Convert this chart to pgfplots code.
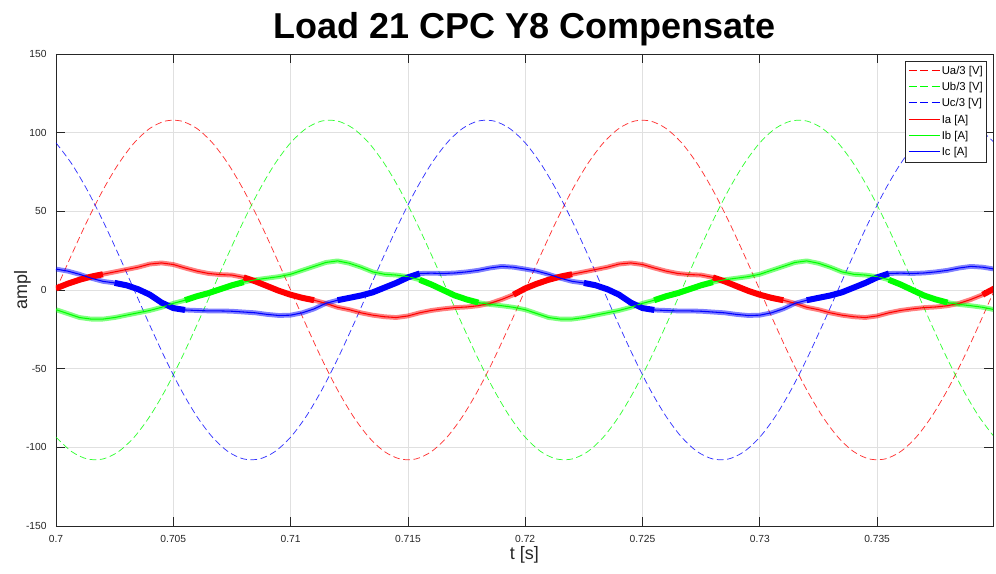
\documentclass[border=0pt]{standalone}
\usepackage{pgfplots}
\pgfplotsset{compat=1.18}
\usepackage{pgfplotstable}
\usepackage{fontspec}
\setmainfont{Liberation Sans}

\pgfplotstableread{
t ua ub uc
0.700000 0 -93.53 93.53
0.700667 22.45 -102.71 80.26
0.701333 43.93 -107.41 63.48
0.702000 63.48 -107.41 43.93
0.702667 80.26 -102.71 22.45
0.703333 93.53 -93.53 0
0.704000 102.71 -80.26 -22.45
0.704667 107.41 -63.48 -43.93
0.705333 107.41 -43.93 -63.48
0.706000 102.71 -22.45 -80.26
0.706667 93.53 0 -93.53
0.707333 80.26 22.45 -102.71
0.708000 63.48 43.93 -107.41
0.708667 43.93 63.48 -107.41
0.709333 22.45 80.26 -102.71
0.710000 0 93.53 -93.53
0.710667 -22.45 102.71 -80.26
0.711333 -43.93 107.41 -63.48
0.712000 -63.48 107.41 -43.93
0.712667 -80.26 102.71 -22.45
0.713333 -93.53 93.53 0
0.714000 -102.71 80.26 22.45
0.714667 -107.41 63.48 43.93
0.715333 -107.41 43.93 63.48
0.716000 -102.71 22.45 80.26
0.716667 -93.53 0 93.53
0.717333 -80.26 -22.45 102.71
0.718000 -63.48 -43.93 107.41
0.718667 -43.93 -63.48 107.41
0.719333 -22.45 -80.26 102.71
0.720000 0 -93.53 93.53
0.720667 22.45 -102.71 80.26
0.721333 43.93 -107.41 63.48
0.722000 63.48 -107.41 43.93
0.722667 80.26 -102.71 22.45
0.723333 93.53 -93.53 0
0.724000 102.71 -80.26 -22.45
0.724667 107.41 -63.48 -43.93
0.725333 107.41 -43.93 -63.48
0.726000 102.71 -22.45 -80.26
0.726667 93.53 0 -93.53
0.727333 80.26 22.45 -102.71
0.728000 63.48 43.93 -107.41
0.728667 43.93 63.48 -107.41
0.729333 22.45 80.26 -102.71
0.730000 0 93.53 -93.53
0.730667 -22.45 102.71 -80.26
0.731333 -43.93 107.41 -63.48
0.732000 -63.48 107.41 -43.93
0.732667 -80.26 102.71 -22.45
0.733333 -93.53 93.53 0
0.734000 -102.71 80.26 22.45
0.734667 -107.41 63.48 43.93
0.735333 -107.41 43.93 63.48
0.736000 -102.71 22.45 80.26
0.736667 -93.53 0 93.53
0.737333 -80.26 -22.45 102.71
0.738000 -63.48 -43.93 107.41
0.738667 -43.93 -63.48 107.41
0.739333 -22.45 -80.26 102.71
0.740000 0 -93.53 93.53
}\volt

\pgfplotstableread{
t ia ib ic
0.7000 1.0 -12.5 13.3
0.7005 4.0 -15.0 12.0
0.7010 6.5 -17.5 10.0
0.7015 8.5 -18.5 7.5
0.7020 10.0 -18.5 5.5
0.7025 11.5 -17.5 4.5
0.7030 13.0 -16.0 3.0
0.7035 14.5 -14.5 0.5
0.7040 16.5 -13.0 -3.0
0.7045 17.2 -11.0 -8.0
0.7050 16.2 -8.5 -11.5
0.7055 14.0 -6.5 -12.7
0.7060 12.0 -4.0 -13.0
0.7065 10.5 -2.0 -13.3
0.7070 9.8 0.5 -13.3
0.7075 9.5 3.0 -13.5
0.7080 8.0 5.0 -14.0
0.7085 5.5 6.5 -14.5
0.7090 2.5 7.5 -15.5
0.7095 -0.5 8.5 -16.2
0.7100 -3.0 10.0 -16.0
0.7105 -5.0 12.5 -14.5
0.7110 -6.5 15.0 -12.0
0.7115 -8.5 17.5 -8.5
0.7120 -11.0 18.5 -6.5
0.7125 -12.5 17.0 -5.0
0.7130 -14.5 14.5 -3.5
0.7135 -16.0 11.5 -1.5
0.7140 -17.0 10.0 1.5
0.7145 -17.5 9.5 4.5
0.7150 -16.5 8.5 8.0
0.7155 -14.5 6.5 10.5
0.7160 -13.0 3.5 10.7
0.7165 -12.0 0.0 10.5
0.7170 -11.2 -3.5 10.8
0.7175 -10.8 -6.0 11.5
0.7180 -10.0 -8.0 12.5
0.7185 -8.5 -9.2 14.0
0.7190 -6.0 -10.0 15.0
0.7195 -3.0 -11.0 14.5
0.7200 1.0 -12.5 13.3
0.7205 4.0 -15.0 12.0
0.7210 6.5 -17.5 10.0
0.7215 8.5 -18.5 7.5
0.7220 10.0 -18.5 5.5
0.7225 11.5 -17.5 4.5
0.7230 13.0 -16.0 3.0
0.7235 14.5 -14.5 0.5
0.7240 16.5 -13.0 -3.0
0.7245 17.2 -11.0 -8.0
0.7250 16.2 -8.5 -11.5
0.7255 14.0 -6.5 -12.7
0.7260 12.0 -4.0 -13.0
0.7265 10.5 -2.0 -13.3
0.7270 9.8 0.5 -13.3
0.7275 9.5 3.0 -13.5
0.7280 8.0 5.0 -14.0
0.7285 5.5 6.5 -14.5
0.7290 2.5 7.5 -15.5
0.7295 -0.5 8.5 -16.2
0.7300 -3.0 10.0 -16.0
0.7305 -5.0 12.5 -14.5
0.7310 -6.5 15.0 -12.0
0.7315 -8.5 17.5 -8.5
0.7320 -11.0 18.5 -6.5
0.7325 -12.5 17.0 -5.0
0.7330 -14.5 14.5 -3.5
0.7335 -16.0 11.5 -1.5
0.7340 -17.0 10.0 1.5
0.7345 -17.5 9.5 4.5
0.7350 -16.5 8.5 8.0
0.7355 -14.5 6.5 10.5
0.7360 -13.0 3.5 10.7
0.7365 -12.0 0.0 10.5
0.7370 -11.2 -3.5 10.8
0.7375 -10.8 -6.0 11.5
0.7380 -10.0 -8.0 12.5
0.7385 -8.5 -9.2 14.0
0.7390 -6.0 -10.0 15.0
0.7395 -3.0 -11.0 14.5
0.7400 1.0 -12.5 13.3
}\cur

\definecolor{mred}{RGB}{255,0,0}
\definecolor{mgreen}{RGB}{0,255,0}
\definecolor{mblue}{RGB}{0,0,255}
\definecolor{axgray}{RGB}{38,38,38}

\begin{document}
\begin{tikzpicture}
\path[use as bounding box] (-42pt,-36pt) rectangle (705pt,394.5pt);
\begin{axis}[
  name=ax,
  at={(0,0)}, anchor=south west,
  width=702.75pt, height=354pt, scale only axis,
  xmin=0.7, xmax=0.73994, ymin=-150, ymax=150,
  xtick={0.7,0.705,0.71,0.715,0.72,0.725,0.73,0.735},
  xticklabels={0.7,0.705,0.71,0.715,0.72,0.725,0.73,0.735},
  ytick={-150,-100,-50,0,50,100,150},
  yticklabels={-150,-100,-50,0,50,100,150},
  tick align=inside, major tick length=7pt,
  grid=major, major grid style={black!12, line width=0.5pt},
  axis line style={axgray, line width=0.5pt},
  every tick/.style={axgray, line width=0.5pt},
  tick label style={font=\fontsize{7.7}{9}\selectfont, text=axgray},
  xticklabel style={yshift=-3.5pt},
  yticklabel style={xshift=-3.5pt},
  title={Load 21 CPC Y8 Compensate},
  title style={font=\fontsize{27}{30}\selectfont\bfseries, at={(axis description cs:0.5,1)}, anchor=base, yshift=5.6pt},
  xlabel={t [s]}, ylabel={ampl},
  every axis x label/.style={at={(axis description cs:0.5,-0.072)}, anchor=base, font=\fontsize{13.5}{16}\selectfont, text=axgray},
  every axis y label/.style={at={(axis description cs:-0.03095,0.5)}, rotate=90, anchor=base, font=\fontsize{13.5}{16}\selectfont, text=axgray},
]
% voltages
\addplot[color=mred, line width=0.55pt, dash pattern=on 5pt off 2.7pt, smooth, opacity=0.8] table[x=t,y=ua]{\volt};
\addplot[color=mgreen, line width=0.55pt, dash pattern=on 5pt off 2.7pt, smooth, opacity=0.8] table[x=t,y=ub]{\volt};
\addplot[color=mblue, line width=0.55pt, dash pattern=on 5pt off 2.7pt, smooth, opacity=0.8] table[x=t,y=uc]{\volt};
% noise halos
\addplot[color=mred, opacity=0.5, line width=3.6pt, line join=round] table[x=t,y=ia]{\cur};
\addplot[color=mgreen, opacity=0.5, line width=3.6pt, line join=round] table[x=t,y=ib]{\cur};
\addplot[color=mblue, opacity=0.5, line width=3.6pt, line join=round] table[x=t,y=ic]{\cur};
% dense-noise segments
\addplot[color=mred, line width=4.5pt, line join=round, restrict x to domain=0.69999:0.70201] table[x=t,y=ia]{\cur};
\addplot[color=mred, line width=4.5pt, line join=round, restrict x to domain=0.70799:0.71101] table[x=t,y=ia]{\cur};
\addplot[color=mred, line width=4.5pt, line join=round, restrict x to domain=0.71949:0.72201] table[x=t,y=ia]{\cur};
\addplot[color=mred, line width=4.5pt, line join=round, restrict x to domain=0.72799:0.73101] table[x=t,y=ia]{\cur};
\addplot[color=mred, line width=4.5pt, line join=round, restrict x to domain=0.73949:0.74001] table[x=t,y=ia]{\cur};
\addplot[color=mgreen, line width=4.5pt, line join=round, restrict x to domain=0.70549:0.70801] table[x=t,y=ib]{\cur};
\addplot[color=mgreen, line width=4.5pt, line join=round, restrict x to domain=0.71549:0.71801] table[x=t,y=ib]{\cur};
\addplot[color=mgreen, line width=4.5pt, line join=round, restrict x to domain=0.72549:0.72801] table[x=t,y=ib]{\cur};
\addplot[color=mgreen, line width=4.5pt, line join=round, restrict x to domain=0.73549:0.73801] table[x=t,y=ib]{\cur};
\addplot[color=mblue, line width=4.5pt, line join=round, restrict x to domain=0.70249:0.70551] table[x=t,y=ic]{\cur};
\addplot[color=mblue, line width=4.5pt, line join=round, restrict x to domain=0.71199:0.71551] table[x=t,y=ic]{\cur};
\addplot[color=mblue, line width=4.5pt, line join=round, restrict x to domain=0.72249:0.72551] table[x=t,y=ic]{\cur};
\addplot[color=mblue, line width=4.5pt, line join=round, restrict x to domain=0.73199:0.73551] table[x=t,y=ic]{\cur};
% currents
\addplot[color=mred, line width=0.8pt] table[x=t,y=ia]{\cur};
\addplot[color=mgreen, line width=0.8pt] table[x=t,y=ib]{\cur};
\addplot[color=mblue, line width=0.8pt] table[x=t,y=ic]{\cur};
\end{axis}
% legend box (text only), samples drawn below
\node[name=leg, anchor=north east, draw=axgray, line width=0.4pt, fill=white, inner xsep=3pt, inner ysep=1.3pt, font=\fontsize{8.5}{12.2}\selectfont]
  at ([xshift=-4.5pt,yshift=-5.25pt]ax.north east)
  {\begin{tabular}{@{\hspace{24.5pt}}l@{}}
   Ua/3 [V]\\
   Ub/3 [V]\\
   Uc/3 [V]\\
   Ia [A]\\
   Ib [A]\\
   Ic [A]
   \end{tabular}};
\draw[mred, line width=0.8pt, dash pattern=on 6pt off 2.5pt] ([xshift=3pt,yshift=-7.0pt]leg.north west) -- ++(23pt,0pt);
\draw[mgreen, line width=0.8pt, dash pattern=on 6pt off 2.5pt] ([xshift=3pt,yshift=-19.2pt]leg.north west) -- ++(23pt,0pt);
\draw[mblue, line width=0.8pt, dash pattern=on 6pt off 2.5pt] ([xshift=3pt,yshift=-31.4pt]leg.north west) -- ++(23pt,0pt);
\draw[mred, line width=0.8pt] ([xshift=3pt,yshift=-43.6pt]leg.north west) -- ++(23pt,0pt);
\draw[mgreen, line width=0.8pt] ([xshift=3pt,yshift=-55.8pt]leg.north west) -- ++(23pt,0pt);
\draw[mblue, line width=0.8pt] ([xshift=3pt,yshift=-68.0pt]leg.north west) -- ++(23pt,0pt);
\end{tikzpicture}
\end{document}
